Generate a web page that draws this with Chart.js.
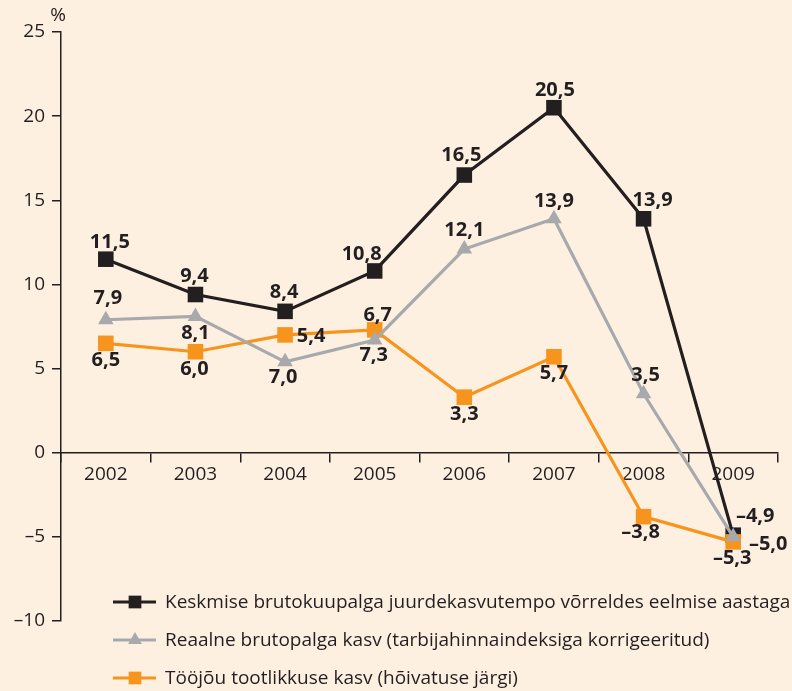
<!DOCTYPE html>
<html>
<head>
<meta charset="utf-8">
<script src="https://cdn.jsdelivr.net/npm/chart.js@4/dist/chart.umd.min.js"></script>
<style>
  html, body { margin: 0; padding: 0; background: #fdf0e1; }
  #wrap { width: 792px; height: 691px; }
</style>
</head>
<body>
<div id="wrap"><canvas id="c" width="792" height="691"></canvas></div>
<script>
const years = ['2002', '2003', '2004', '2005', '2006', '2007', '2008', '2009'];
const wageGrowth = [11.5, 9.4, 8.4, 10.8, 16.5, 20.5, 13.9, -4.9];
const realWageGrowth = [7.9, 8.1, 5.4, 6.7, 12.1, 13.9, 3.5, -5.0];
const productivityGrowth = [6.5, 6.0, 7.0, 7.3, 3.3, 5.7, -3.8, -5.3];
const yTicks = [-10, -5, 0, 5, 10, 15, 20, 25];

const seriesNames = [
    'Keskmise brutokuupalga juurdekasvutempo võrreldes eelmise aastaga',
    'Reaalne brutopalga kasv (tarbijahinnaindeksiga korrigeeritud)',
    'Tööjõu tootlikkuse kasv (hõivatuse järgi)',
];

// label offsets from their point, in px (placement copied from the original layout)
const wageLabelPos = [[4, -17], [-1, -18], [-1, -19], [-13, -17], [-3, -20], [1, -17], [9, -19], [22, -19]];
const realLabelPos = [[2, -21], [0, 17], [26, -26], [3, -25], [0, -19], [0, -18], [2, -19], [35, 7]];
const prodLabelPos = [[0, 17], [-1, 18], [-2, 42], [-1, 25], [0, 17], [0, 17], [-3, 16], [-1, 16]];

const ink = '#231f20';
const font = '"Open Sans", sans-serif';

const fmt = (v) => (v < 0 ? '–' : '') + Math.abs(v).toFixed(1).replace('.', ',');

const background = {
    id: 'background',
    beforeDraw(chart) {
        const ctx = chart.ctx;
        ctx.save();
        ctx.fillStyle = '#fdf0e1';
        ctx.fillRect(0, 0, chart.width, chart.height);
        ctx.restore();
    },
};

const valueLabels = {
    id: 'valueLabels',
    afterDatasetsDraw(chart) {
        const ctx = chart.ctx;
        ctx.save();
        ctx.font = 'bold 20px ' + font;
        ctx.fillStyle = ink;
        ctx.textAlign = 'center';
        ctx.textBaseline = 'middle';
        chart.data.datasets.forEach((ds, i) => {
            const meta = chart.getDatasetMeta(i);
            meta.data.forEach((pt, j) => {
                const [dx, dy] = ds.labelPos[j];
                ctx.fillText(fmt(ds.data[j]), pt.x + dx, pt.y + dy);
            });
        });
        ctx.restore();
    },
};

const legendAndUnit = {
    id: 'legendAndUnit',
    afterDraw(chart) {
        const ctx = chart.ctx;
        ctx.save();
        ctx.fillStyle = ink;
        ctx.font = '19px ' + font;
        ctx.textAlign = 'center';
        ctx.textBaseline = 'middle';
        ctx.fillText('%', 58, 16);

        ctx.textAlign = 'left';
        chart.data.datasets.forEach((ds, i) => {
            const y = 602 + i * 38;
            ctx.strokeStyle = ds.borderColor;
            ctx.lineWidth = 3;
            ctx.beginPath();
            ctx.moveTo(113, y);
            ctx.lineTo(156, y);
            ctx.stroke();
            ctx.fillStyle = ds.backgroundColor;
            Chart.helpers.drawPoint(ctx, {
                pointStyle: ds.pointStyle,
                radius: ds.pointStyle === 'triangle' ? 8 : 9,
                rotation: 0,
            }, 135, y);
            ctx.fillStyle = ink;
            ctx.fillText(ds.label, 165, y + 1);
        });
        ctx.restore();
    },
};

new Chart(document.getElementById('c'), {
    type: 'line',
    data: {
        labels: years,
        datasets: [
            {
                label: seriesNames[0],
                data: wageGrowth,
                labelPos: wageLabelPos,
                borderColor: ink,
                backgroundColor: ink,
                pointStyle: 'rect',
                pointRadius: 11,
                order: 3,
            },
            {
                label: seriesNames[1],
                data: realWageGrowth,
                labelPos: realLabelPos,
                borderColor: '#a7a9ac',
                backgroundColor: '#a7a9ac',
                pointStyle: 'triangle',
                pointRadius: 9,
                order: 1,
            },
            {
                label: seriesNames[2],
                data: productivityGrowth,
                labelPos: prodLabelPos,
                borderColor: '#f7941d',
                backgroundColor: '#f7941d',
                pointStyle: 'rect',
                pointRadius: 11,
                order: 2,
            },
        ],
    },
    options: {
        responsive: false,
        animation: false,
        devicePixelRatio: 1,
        layout: { padding: { left: 0, right: 14, top: 32, bottom: 70 } },
        elements: {
            line: { borderWidth: 3.2, tension: 0 },
            point: { borderWidth: 0, hoverRadius: 11 },
        },
        clip: false,
        plugins: {
            legend: { display: false },
            tooltip: { enabled: false },
        },
        scales: {
            x: {
                type: 'category',
                position: { y: 0 },
                offset: true,
                grid: {
                    offset: true,
                    drawOnChartArea: false,
                    tickLength: 9,
                    color: ink,
                    lineWidth: 1.5,
                },
                border: { color: ink, width: 1.5 },
                ticks: {
                    color: ink,
                    padding: 1,
                    font: { family: font, size: 19 },
                },
            },
            y: {
                min: -10,
                max: 25,
                afterFit: (scale) => { scale.width = 61; },
                afterBuildTicks: (scale) => {
                    scale.ticks = yTicks.map((v) => ({ value: v }));
                },
                grid: {
                    drawOnChartArea: false,
                    tickLength: 9,
                    color: ink,
                    lineWidth: 1.5,
                },
                border: { color: ink, width: 1.5 },
                ticks: {
                    color: ink,
                    padding: 7,
                    font: { family: font, size: 19 },
                    callback: (v) => (v < 0 ? '–' + Math.abs(v) : String(v)),
                },
            },
        },
    },
    plugins: [background, valueLabels, legendAndUnit],
});
</script>
</body>
</html>
